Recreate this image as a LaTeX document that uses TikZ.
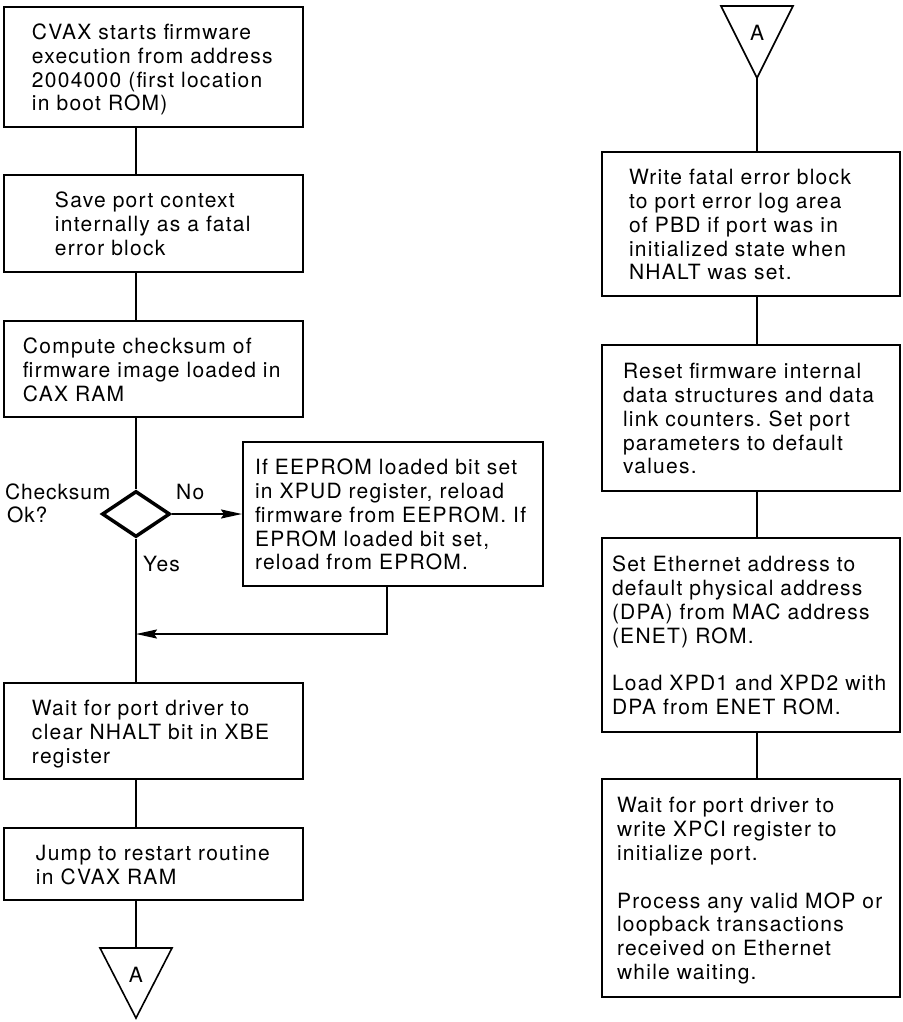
\documentclass[tikz,border=0pt]{standalone}
\usepackage{fontspec}
\setmainfont{TeX Gyre Heros}[LetterSpace=6]
\usetikzlibrary{shapes.geometric,arrows.meta}
\frenchspacing
\newcommand\bt[2]{\hspace*{#1}\raisebox{0pt}[\height][\dimexpr\depth-7pt\relax]{\begin{tabular}[t]{@{}l@{}}#2\end{tabular}}}
\begin{document}
\begin{tikzpicture}[x=1pt,y=-1pt,
  txtfont/.style={font=\fontsize{21}{23.8}\selectfont\frenchspacing},
  box/.style={draw, line width=2pt, rectangle, inner sep=0pt, align=left, txtfont},
  lbl/.style={inner sep=0pt, txtfont},
  conn/.style={line width=2pt},
  arr/.style={conn, -{Stealth[length=21pt,width=9pt,inset=3pt]}},
  tri/.style={line width=1.6pt, line join=miter}]
\useasboundingbox (0,0) rectangle (902,1022);
% column lines
\coordinate (cl) at (136,0);
\coordinate (cr) at (757,0);
% left column
\node[box, minimum width=299pt, minimum height=120pt, text width=299pt] (b1) at (153.5,67)
  {\bt{28pt}{CVAX starts firmware\\execution from address\\2004000 (first location\\in boot ROM)}};
\node[box, minimum width=299pt, minimum height=97pt, text width=299pt] (b2) at (153.5,223.5)
  {\bt{51pt}{Save port context\\internally as a fatal\\error block}};
\node[box, minimum width=299pt, minimum height=96pt, text width=299pt] (b3) at (153.5,369)
  {\bt{19pt}{Compute checksum of\\firmware image loaded in\\CAX RAM}};
\node[draw, diamond, line width=3.5pt, minimum width=68pt, minimum height=46pt, inner sep=0pt] (d) at (136,514) {};
\node[box, minimum width=300pt, minimum height=144pt, text width=300pt] (b4) at (393,514)
  {\bt{12pt}{If EEPROM loaded bit set\\in XPUD register, reload\\firmware from EEPROM. If\\EPROM loaded bit set,\\reload from EPROM.}};
\node[box, minimum width=299pt, minimum height=96pt, text width=299pt] (b5) at (153.5,731)
  {\bt{28pt}{Wait for port driver to\\clear NHALT bit in XBE\\register}};
\node[box, minimum width=299pt, minimum height=72pt, text width=299pt] (b6) at (153.5,864)
  {\bt{32pt}{Jump to restart routine\\in CVAX RAM}};
% labels
\node[lbl, anchor=base west] (cks) at (5,499) {\addfontfeature{LetterSpace=4}\bt{0pt}{Checksum\\\hspace*{2pt}Ok?}};
\node[lbl, anchor=base west] (no) at (176,499) {No};
\node[lbl, anchor=base west] (yes) at (143,571) {Yes};
% off-page connector left
\coordinate (tlt) at (136,948);
\draw[tri] (100,948) -- (172,948) -- (136,1018) -- cycle;
\node[lbl] (al) at (136,975) {A};
% right column
\coordinate (trb) at (757,78);
\draw[tri] (721,6) -- (793,6) -- (757,78) -- cycle;
\node[lbl] (ar) at (757,33) {A};
\node[box, minimum width=298pt, minimum height=144pt, text width=298pt] (r1) at (751,224)
  {\bt{27pt}{Write fatal error block\\to port error log area\\of PBD if port was in\\initialized state when\\NHALT was set.}};
\node[box, minimum width=298pt, minimum height=146pt, text width=298pt] (r2) at (751,418)
  {\bt{21pt}{Reset firmware internal\\data structures and data\\link counters. Set port\\parameters to default\\values.}};
\node[box, minimum width=298pt, minimum height=194pt, text width=298pt] (r3) at (751,635)
  {\bt{10pt}{Set Ethernet address to\\default physical address\\(DPA) from MAC address\\(ENET) ROM.\\ \\Load XPD1 and XPD2 with\\DPA from ENET ROM.}};
\node[box, minimum width=298pt, minimum height=218pt, text width=298pt] (r4) at (751,888)
  {\bt{15pt}{Wait for port driver to\\write XPCI register to\\initialize port.\\ \\Process any valid MOP or\\loopback transactions\\received on Ethernet\\while waiting.}};
% connectors left
\draw[conn] (b1.south -| cl) -- (b2.north -| cl);
\draw[conn] (b2.south -| cl) -- (b3.north -| cl);
\draw[conn] (b3.south -| cl) -- (d.north);
\draw[arr] (d.east) -- (b4.west);
\draw[conn] (d.south) -- (b5.north -| cl);
\coordinate (rx) at (387,0);
\coordinate (j) at (136,634);
\draw[arr] (b4.south -| rx) |- (j);
\draw[conn] (b5.south -| cl) -- (b6.north -| cl);
\draw[conn] (b6.south -| cl) -- (tlt);
% connectors right
\draw[conn] (trb) -- (r1.north -| cr);
\draw[conn] (r1.south -| cr) -- (r2.north -| cr);
\draw[conn] (r2.south -| cr) -- (r3.north -| cr);
\draw[conn] (r3.south -| cr) -- (r4.north -| cr);
\end{tikzpicture}
\end{document}
